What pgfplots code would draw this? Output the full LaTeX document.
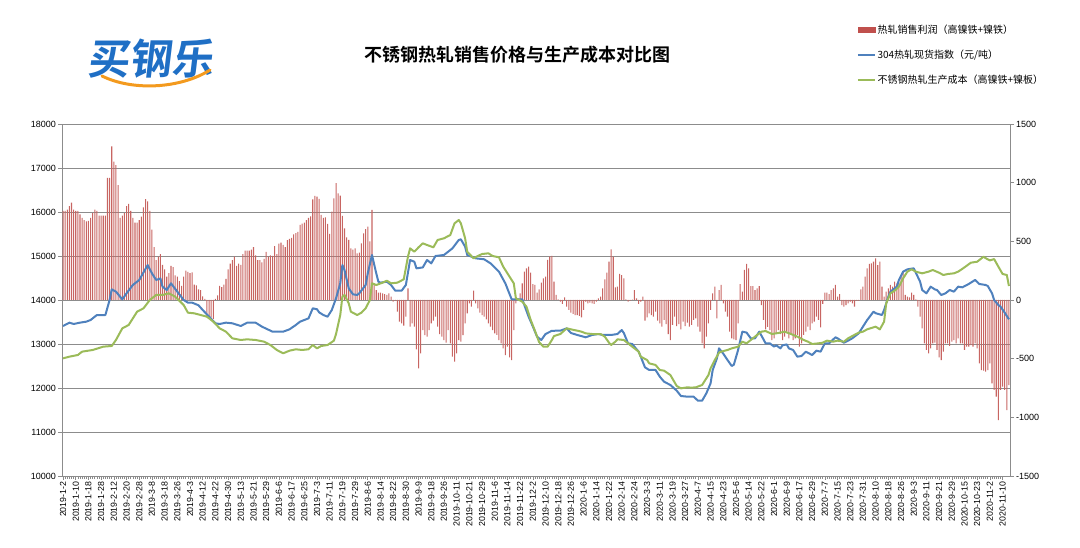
\documentclass[border=0pt]{standalone}
\usepackage{fontspec}
\setmainfont{Liberation Sans}
\newfontfamily\cjk{Noto Sans CJK SC}
\newfontfamily\cjkb{Noto Sans CJK SC Bold}
\usepackage{pgfplots}
\pgfplotsset{compat=1.18}
\definecolor{barred}{HTML}{C0504D}
\definecolor{lineblue}{HTML}{4F81BD}
\definecolor{linegreen}{HTML}{9BBB59}
\definecolor{gridgray}{HTML}{8C8C8C}
\definecolor{logoblue}{HTML}{1F6FC5}
\definecolor{logoorange}{HTML}{F39A1E}
\pgfplotsset{
  common/.style={
    at={(62pt,72pt)}, anchor=south west, scale only axis,
    width=948pt, height=352pt, xmin=-0.5, xmax=447.5,
    scaled y ticks=false, scaled x ticks=false,
  }
}
\begin{document}
\begin{tikzpicture}
\path[use as bounding box] (0pt,0pt) rectangle (1080pt,548pt);
% logo and title
\node[font=\cjkb\fontsize{42}{42}\selectfont, text=logoblue, xslant=0.12] at (152pt,489pt) {买钢乐};
\draw[logoorange, line width=3pt, line cap=round] (102pt,472pt) .. controls (132pt,457pt) and (180pt,459pt) .. (210pt,478pt);
\node[font=\cjkb\fontsize{18}{18}\selectfont] at (517pt,493pt) {不锈钢热轧销售价格与生产成本对比图};
% axis A: grid, left axis, x labels
\begin{axis}[common,
  ymin=10000, ymax=18000,
  ytick={10000,11000,12000,13000,14000,15000,16000,17000,18000},
  yticklabels={10000,11000,12000,13000,14000,15000,16000,17000,18000},
  ymajorgrids, grid style={gridgray, line width=0.8pt},
  axis x line*=bottom, axis y line*=left,
  axis line style={gridgray, line width=0.8pt},
  tick style={gridgray, line width=0.6pt}, tick align=outside,
  major tick length=4pt, minor tick length=3pt,
  xtick={0,6,...,444}, minor x tick num=5,
  xticklabels={2019-1-2,2019-1-10,2019-1-18,2019-1-28,2019-2-12,2019-2-20,2019-2-28,2019-3-8,2019-3-18,2019-3-26,2019-4-3,2019-4-12,2019-4-22,2019-4-30,2019-5-13,2019-5-21,2019-5-29,2019-6-6,2019-6-17,2019-6-25,2019-7-3,2019-7-11,2019-7-19,2019-7-29,2019-8-6,2019-8-14,2019-8-22,2019-8-30,2019-9-9,2019-9-18,2019-9-26,2019-10-11,2019-10-21,2019-10-29,2019-11-6,2019-11-14,2019-11-22,2019-12-2,2019-12-10,2019-12-18,2019-12-26,2020-1-6,2020-1-14,2020-1-22,2020-2-14,2020-2-24,2020-3-3,2020-3-11,2020-3-19,2020-3-27,2020-4-7,2020-4-15,2020-4-23,2020-5-6,2020-5-14,2020-5-22,2020-6-1,2020-6-9,2020-6-17,2020-6-29,2020-7-7,2020-7-15,2020-7-23,2020-7-31,2020-8-10,2020-8-18,2020-8-26,2020-9-3,2020-9-11,2020-9-21,2020-9-29,2020-10-15,2020-10-23,2020-11-2,2020-11-10},
  xticklabel style={rotate=90, anchor=east, font=\fontsize{8.8}{9}\selectfont, inner sep=1.5pt},
  yticklabel style={font=\fontsize{9}{9}\selectfont, inner sep=2pt},
]
\addplot[draw=none] coordinates {(0,10000)};
\end{axis}
% axis B: bars on the right axis
\begin{axis}[common,
  ymin=-1500, ymax=1500,
  axis y line*=right, axis x line=none, xtick=\empty,
  ytick={-1500,-1000,-500,0,500,1000,1500},
  yticklabels={-1500,-1000,-500,0,500,1000,1500},
  axis line style={gridgray, line width=0.8pt},
  tick style={gridgray, line width=0.6pt}, tick align=outside, major tick length=4pt,
  yticklabel style={font=\fontsize{9}{9}\selectfont, inner sep=2pt},
  ybar, bar width=1.05pt,
]
\addplot[fill=barred!88!white, draw=none] coordinates {
(0,760)(1,760)(2,770)(3,800)(4,830)(5,770)(6,760)(7,760)(8,730)(9,700)
(10,680)(11,670)(12,675)(13,700)(14,740)(15,770)(16,760)(17,720)(18,720)(19,720)
(20,720)(21,1040)(22,1040)(23,1310)(24,1180)(25,1150)(26,980)(27,700)(28,720)(29,740)
(30,800)(31,820)(32,760)(33,700)(34,660)(35,660)(36,680)(37,710)(38,790)(39,860)
(40,840)(41,760)(42,600)(43,450)(44,340)(45,370)(46,390)(47,300)(48,260)(49,200)
(50,230)(51,290)(52,280)(53,210)(54,200)(55,160)(56,120)(57,200)(58,250)(59,240)
(60,230)(61,235)(62,130)(63,125)(64,90)(65,85)(66,30)(67,10)(68,-140)(69,-150)
(70,-150)(71,-160)(72,10)(73,40)(74,120)(75,110)(76,130)(77,180)(78,260)(79,310)
(80,340)(81,370)(82,290)(83,310)(84,300)(85,390)(86,420)(87,420)(88,420)(89,430)
(90,450)(91,380)(92,340)(93,340)(94,320)(95,350)(96,410)(97,370)(98,380)(99,375)
(100,460)(101,390)(102,480)(103,490)(104,470)(105,450)(106,510)(107,520)(108,530)(109,560)
(110,570)(111,580)(112,640)(113,650)(114,660)(115,680)(116,700)(117,712)(118,858)(119,887)
(120,880)(121,861)(122,725)(123,700)(124,705)(125,648)(126,563)(127,753)(128,867)(129,995)
(130,909)(131,890)(132,716)(133,611)(134,534)(135,512)(136,440)(137,430)(138,440)(139,398)
(140,403)(141,483)(142,568)(143,603)(144,625)(145,500)(146,767)(147,142)(148,85)(149,63)
(150,63)(151,57)(152,51)(153,43)(154,57)(155,28)(156,-14)(157,-5)(158,-99)(159,-185)
(160,-199)(161,-219)(162,-142)(163,99)(164,-227)(165,-200)(166,-227)(167,-420)(168,-583)(169,-455)
(170,-256)(171,-300)(172,-313)(173,-256)(174,-199)(175,-176)(176,-142)(177,-227)(178,-290)(179,-313)
(180,-341)(181,-364)(182,-256)(183,-370)(184,-483)(185,-526)(186,-455)(187,-341)(188,-355)(189,-300)
(190,-199)(191,-114)(192,-28)(193,-57)(194,80)(195,-28)(196,-71)(197,-107)(198,-128)(199,-142)
(200,-165)(201,-199)(202,-227)(203,-256)(204,-284)(205,-298)(206,-341)(207,-370)(208,-412)(209,-469)
(210,-398)(211,-489)(212,-512)(213,-256)(214,-28)(215,14)(216,57)(217,142)(218,242)(219,270)
(220,284)(221,233)(222,136)(223,128)(224,63)(225,91)(226,148)(227,185)(228,199)(229,341)
(230,369)(231,375)(232,156)(233,43)(234,5)(235,-14)(236,-34)(237,23)(238,-57)(239,-85)
(240,-108)(241,-119)(242,-128)(243,-128)(244,-136)(245,-148)(246,-85)(247,-14)(248,-28)(249,-23)
(250,-28)(251,-34)(252,-14)(253,14)(254,28)(255,99)(256,176)(257,233)(258,327)(259,432)
(260,369)(261,108)(262,114)(263,222)(264,213)(265,185)(266,6)(267,-14)(268,-6)(269,3)
(270,85)(271,14)(272,-34)(273,-14)(274,28)(275,-176)(276,-148)(277,-114)(278,-128)(279,-142)
(280,-99)(281,-176)(282,-199)(283,-227)(284,-170)(285,-205)(286,-290)(287,-341)(288,-213)(289,-142)
(290,-222)(291,-205)(292,-250)(293,-185)(294,-222)(295,-193)(296,-227)(297,-213)(298,-170)(299,-156)
(300,-227)(301,-270)(302,-369)(303,-412)(304,-313)(305,-199)(306,-85)(307,57)(308,114)(309,-156)
(310,85)(311,128)(312,-28)(313,-99)(314,-142)(315,-270)(316,-327)(317,-335)(318,-341)(319,-199)
(320,136)(321,71)(322,256)(323,307)(324,270)(325,119)(326,119)(327,85)(328,99)(329,119)
(330,-43)(331,-170)(332,-250)(333,-230)(334,-256)(335,-341)(336,-327)(337,-284)(338,-256)(339,-290)
(340,-341)(341,-313)(342,-270)(343,-327)(344,-298)(345,-341)(346,-327)(347,-298)(348,-398)(349,-369)
(350,-298)(351,-270)(352,-227)(353,-256)(354,-199)(355,-185)(356,-142)(357,-170)(358,-233)(359,-34)
(360,63)(361,63)(362,51)(363,85)(364,99)(365,128)(366,28)(367,51)(368,-43)(369,-57)
(370,-43)(371,-28)(372,-14)(373,-28)(374,-57)(375,-6)(376,-6)(377,91)(378,114)(379,199)
(380,270)(381,307)(382,313)(383,327)(384,355)(385,298)(386,327)(387,114)(388,28)(389,71)
(390,99)(391,128)(392,114)(393,156)(394,142)(395,156)(396,199)(397,242)(398,43)(399,28)
(400,23)(401,63)(402,43)(403,5)(404,-57)(405,-142)(406,-241)(407,-369)(408,-426)(409,-455)
(410,-412)(411,-369)(412,-364)(413,-426)(414,-489)(415,-512)(416,-440)(417,-369)(418,-369)(419,-392)
(420,-355)(421,-341)(422,-369)(423,-327)(424,-369)(425,-369)(426,-426)(427,-398)(428,-398)(429,-384)
(430,-398)(431,-369)(432,-412)(433,-540)(434,-597)(435,-603)(436,-611)(437,-597)(438,-540)(439,-711)
(440,-767)(441,-824)(442,-1023)(443,-767)(444,-739)(445,-767)(446,-938)(447,-725)
};
\end{axis}
% axis C: lines on the left scale, with the legend
\begin{axis}[common,
  ymin=10000, ymax=18000, hide axis,
  legend style={at={(0.8386,1.288)}, anchor=north west, draw=none, fill=none,
    font=\cjk\fontsize{10}{10}\selectfont, row sep=11pt, inner sep=0pt,
    nodes={inner sep=2pt}},
  legend cell align=left,
  legend image code/.code={\draw[#1, line width=1.4pt] (0pt,0pt) -- (17pt,0pt);},
]
\addlegendimage{legend image code/.code={\fill[barred] (0pt,-2.8pt) rectangle (17pt,2.8pt);}}
\addlegendentry{热轧销售利润（高镍铁+镍铁）}
\addplot[lineblue, line width=2pt, line join=round] coordinates {
(0,13409)(3,13485)(5,13455)(8,13485)(11,13508)(13,13545)(16,13659)(20,13659)(22,14000)(23,14242)
(25,14190)(28,14015)(30,14152)(33,14341)(36,14455)(40,14795)(42,14606)(44,14455)(46,14490)(47,14303)
(49,14227)(51,14379)(54,14190)(57,14000)(59,13940)(61,13940)(64,13880)(66,13773)(69,13621)(72,13470)
(74,13455)(77,13485)(80,13470)(84,13409)(87,13485)(91,13485)(94,13394)(99,13280)(104,13280)(107,13333)
(110,13432)(112,13508)(114,13545)(116,13583)(118,13810)(120,13790)(121,13720)(123,13659)(125,13621)(127,13773)
(129,14038)(131,14379)(132,14795)(133,14680)(135,14265)(137,14129)(139,14114)(140,14152)(143,14341)(144,14606)
(146,15023)(148,14606)(149,14417)(150,14394)(153,14417)(155,14341)(157,14212)(160,14212)(162,14341)(164,14909)
(166,14870)(167,14720)(170,14740)(172,14909)(174,14833)(176,15000)(180,15023)(182,15098)(184,15174)(187,15364)
(188,15379)(190,15212)(191,15023)(195,14947)(199,14925)(202,14833)(206,14644)(209,14379)(212,14015)(217,14015)
(220,13621)(222,13400)(224,13166)(226,13091)(228,13227)(231,13300)(235,13303)(238,13356)(240,13250)(243,13205)
(247,13152)(250,13205)(253,13227)(255,13205)(259,13205)(262,13227)(264,13318)(265,13250)(267,13015)(269,13000)
(270,12939)(272,12826)(273,12712)(275,12470)(277,12409)(280,12409)(282,12258)(284,12144)(287,12068)(290,11939)
(292,11818)(295,11803)(298,11803)(300,11712)(302,11712)(304,11879)(306,12106)(307,12409)(309,12674)(310,12901)
(312,12780)(314,12636)(316,12500)(317,12530)(319,12864)(321,13280)(323,13260)(325,13129)(327,13129)(329,13280)
(331,13106)(332,13015)(334,13015)(336,12940)(337,12970)(339,12901)(340,12970)(342,12990)(343,12901)(345,12864)
(347,12712)(349,12727)(351,12826)(354,12750)(356,12848)(358,12826)(360,13015)(362,13015)(365,13152)(366,13130)
(369,13030)(371,13076)(373,13130)(376,13242)(378,13394)(380,13545)(383,13735)(384,13700)(387,13659)(388,13773)
(390,14076)(391,14190)(394,14303)(395,14455)(397,14644)(399,14697)(402,14720)(403,14620)(405,14417)(406,14227)
(408,14152)(410,14303)(412,14240)(413,14227)(415,14114)(417,14152)(419,14227)(421,14190)(423,14303)(425,14288)
(428,14364)(431,14455)(433,14364)(436,14341)(437,14318)(439,14152)(440,14000)(442,13886)(443,13850)(445,13712)
(447,13561)
};
\addlegendentry{304热轧现货指数（元/吨）}
\addplot[linegreen, line width=2pt, line join=round] coordinates {
(0,12674)(3,12712)(7,12750)(9,12826)(14,12864)(19,12939)(23,12955)(25,13091)(28,13356)(31,13432)
(35,13735)(38,13810)(41,14000)(44,14114)(47,14114)(50,14152)(53,14076)(57,13886)(59,13712)(62,13697)
(65,13659)(68,13621)(71,13508)(74,13356)(77,13280)(80,13129)(84,13091)(87,13106)(91,13091)(95,13053)
(98,12977)(101,12864)(104,12788)(107,12848)(110,12879)(113,12864)(116,12880)(118,12977)(120,12901)(122,12955)
(125,12977)(128,13076)(129,13227)(131,13659)(132,14076)(133,14114)(135,13924)(136,13735)(139,13659)(141,13712)
(143,13810)(145,14000)(146,14379)(148,14341)(151,14394)(153,14439)(155,14379)(158,14394)(161,14470)(163,14985)
(164,15174)(166,15098)(168,15197)(170,15288)(172,15250)(175,15197)(177,15364)(180,15402)(183,15477)(185,15742)
(187,15818)(188,15742)(190,15402)(191,15098)(194,14947)(196,15000)(198,15045)(201,15061)(203,15000)(206,14970)
(208,14758)(210,14606)(213,14379)(214,14038)(217,13962)(219,13848)(221,13545)(223,13300)(225,13040)(227,12939)
(229,12940)(231,13091)(232,13180)(235,13227)(238,13356)(240,13333)(243,13303)(245,13280)(247,13242)(250,13227)
(254,13227)(256,13167)(258,13030)(259,12977)(261,13053)(262,13106)(265,13091)(267,13015)(269,12939)(272,12826)
(273,12712)(276,12636)(277,12560)(280,12523)(282,12409)(284,12394)(287,12295)(290,12045)(292,11992)(295,12015)
(297,12008)(299,12015)(302,12068)(303,12144)(305,12295)(306,12447)(308,12636)(310,12803)(311,12826)(314,12864)
(316,12901)(319,12939)(321,13053)(323,13015)(325,13091)(328,13205)(330,13280)(332,13295)(335,13227)(338,13250)
(341,13280)(344,13227)(347,13167)(350,13091)(352,13053)(354,13000)(357,13015)(359,13030)(361,13076)(364,13053)
(366,13076)(369,13053)(371,13129)(373,13182)(376,13258)(378,13280)(380,13333)(384,13394)(386,13333)(388,13508)
(389,13924)(391,14152)(393,14212)(395,14303)(397,14492)(399,14644)(401,14697)(403,14644)(406,14606)(409,14644)
(411,14682)(414,14620)(416,14568)(418,14590)(421,14606)(423,14644)(426,14742)(429,14848)(432,14870)(435,14985)
(436,14950)(438,14900)(440,14930)(442,14758)(444,14591)(446,14568)(447,14318)
};
\addlegendentry{不锈钢热轧生产成本（高镍铁+镍板）}
\end{axis}
\end{tikzpicture}
\end{document}
